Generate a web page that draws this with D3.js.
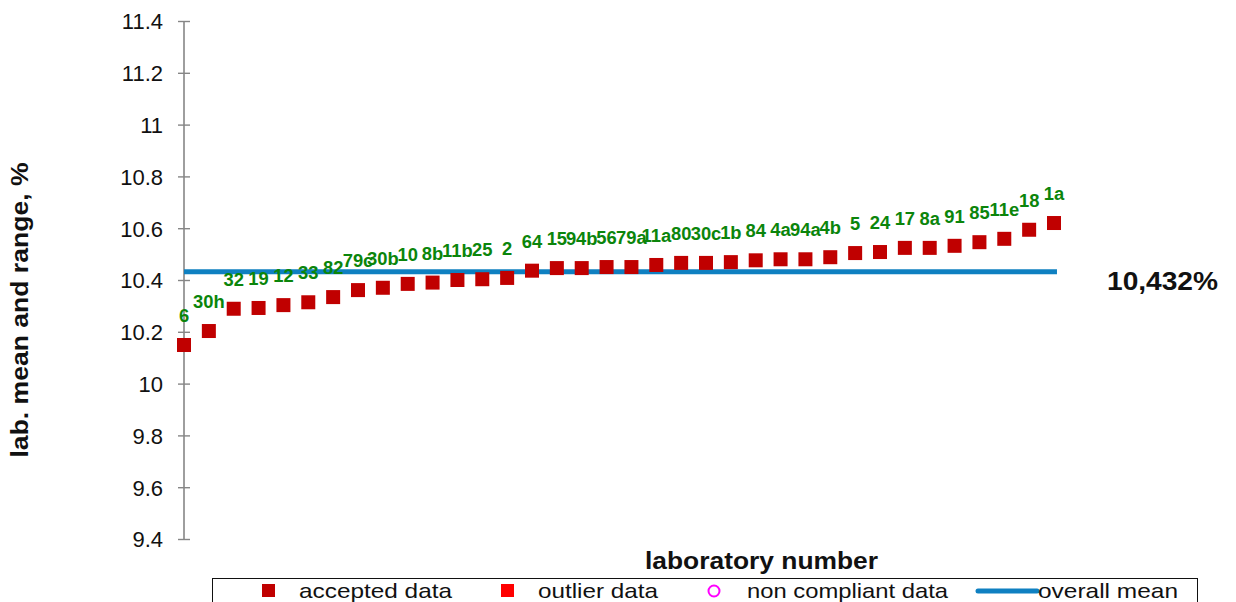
<!DOCTYPE html>
<html>
<head>
<meta charset="utf-8">
<script src="https://cdn.jsdelivr.net/npm/d3@7"></script>
<style>
  html, body { margin: 0; padding: 0; background: #fff; }
  svg { display: block; font-family: "Liberation Sans", Arial, sans-serif; }
</style>
</head>
<body>
<svg id="chart" width="1236" height="602"></svg>
<script>
const labs = ["6","30h","32","19","12","33","82","79c","30b","10","8b","11b","25","2","64","15","94b","56","79a","11a","80","30c","1b","84","4a","94a","4b","5","24","17","8a","91","85","11e","18","1a"];
const labValues = [10.149,10.203,10.289,10.292,10.303,10.314,10.334,10.361,10.370,10.385,10.390,10.400,10.403,10.408,10.436,10.446,10.446,10.450,10.450,10.458,10.466,10.466,10.469,10.476,10.480,10.480,10.488,10.504,10.508,10.524,10.524,10.532,10.546,10.559,10.594,10.620];
const overallMean = 10.432;
const meanLabel = "10,432%";
const yTicks = [9.4, 9.6, 9.8, 10, 10.2, 10.4, 10.6, 10.8, 11, 11.2, 11.4];
const yTitle = "lab. mean and range, %";
const xTitle = "laboratory number";
const legendLabels = ["accepted data", "outlier data", "non compliant data", "overall mean"];

const svg = d3.select("#chart");
const idx = labs.map((d, i) => i + 1);

const x = d3.scaleLinear().domain([1, labs.length]).range([184, 1054]);
const y = d3.scaleLinear().domain([9.4, 11.4]).range([539, 21]);

// Y axis
const yAxis = d3.axisLeft(y).tickValues(yTicks).tickSize(6).tickPadding(0)
  .tickFormat(d => d3.format("")(+d.toFixed(1)));
const gy = svg.append("g").attr("transform", "translate(184,0)").call(yAxis);
gy.select(".domain").attr("stroke", "#868686").attr("stroke-width", 1.6).attr("d", `M0,${y(9.4)}V${y(11.4)}`);
gy.selectAll(".tick line").attr("stroke", "#868686").attr("stroke-width", 1.4).attr("x1", -6).attr("x2", 6);
gy.selectAll(".tick text").attr("x", -21).attr("dy", "0.36em")
  .attr("fill", "#111").style("font-size", "22px").style("font-family", "'Liberation Sans', Arial, sans-serif");

// Mean line
svg.append("line")
  .attr("x1", x(1)).attr("x2", x(labs.length + 0.12))
  .attr("y1", y(overallMean)).attr("y2", y(overallMean))
  .attr("stroke", "#0F80C1").attr("stroke-width", 5);

// Points
const sq = 14;
svg.append("g").selectAll("rect").data(idx).join("rect")
  .attr("x", d => x(d) - sq / 2)
  .attr("y", (d, i) => y(labValues[i]) - sq / 2)
  .attr("width", sq).attr("height", sq)
  .attr("fill", "#C00000");

// Data labels
svg.append("g").selectAll("text").data(idx).join("text")
  .attr("transform", (d, i) => `translate(${x(d)},${y(labValues[i]) - 23}) scale(1.05,1)`)
  .attr("text-anchor", "middle")
  .attr("fill", "#0B850B")
  .style("font-size", "17.5px").style("font-weight", "bold")
  .text((d, i) => labs[i]);

// Mean label
svg.append("text")
  .attr("x", 1107).attr("y", y(overallMean) + 18.5)
  .attr("textLength", 111).attr("lengthAdjust", "spacingAndGlyphs")
  .attr("fill", "#111")
  .style("font-size", "25px").style("font-weight", "bold")
  .text(meanLabel);

// Axis titles
svg.append("text")
  .attr("transform", `translate(28,${(y(9.4) + y(11.4)) / 2 + 30}) rotate(-90)`)
  .attr("text-anchor", "middle")
  .attr("textLength", 295).attr("lengthAdjust", "spacingAndGlyphs")
  .attr("fill", "#111")
  .style("font-size", "24px").style("font-weight", "bold")
  .text(yTitle);

svg.append("text")
  .attr("x", 645).attr("y", 569)
  .attr("textLength", 233).attr("lengthAdjust", "spacingAndGlyphs")
  .attr("fill", "#111")
  .style("font-size", "24px").style("font-weight", "bold")
  .text(xTitle);

// Legend
const lg = svg.append("g");
lg.append("rect").attr("x", 212.5).attr("y", 578.5).attr("width", 985).attr("height", 40)
  .attr("fill", "none").attr("stroke", "#111").attr("stroke-width", 1);

const legendText = [
  { x: 299, w: 153 },
  { x: 538, w: 120 },
  { x: 747, w: 201 },
  { x: 1038, w: 140 }
];
lg.append("rect").attr("x", 262).attr("y", 584).attr("width", 13).attr("height", 13).attr("fill", "#C00000");
lg.append("rect").attr("x", 501).attr("y", 584).attr("width", 13).attr("height", 13).attr("fill", "#FF0000");
lg.append("circle").attr("cx", 714).attr("cy", 591).attr("r", 5.5).attr("fill", "none").attr("stroke", "#FF00FF").attr("stroke-width", 2);
lg.append("line").attr("x1", 978).attr("x2", 1037).attr("y1", 591).attr("y2", 591).attr("stroke", "#0F80C1").attr("stroke-width", 5).attr("stroke-linecap", "round");

lg.selectAll("text.leg").data(legendLabels).join("text")
  .attr("class", "leg")
  .attr("x", (d, i) => legendText[i].x).attr("y", 597.5)
  .attr("textLength", (d, i) => legendText[i].w).attr("lengthAdjust", "spacingAndGlyphs")
  .attr("fill", "#111")
  .style("font-size", "21px")
  .text(d => d);
</script>
</body>
</html>
